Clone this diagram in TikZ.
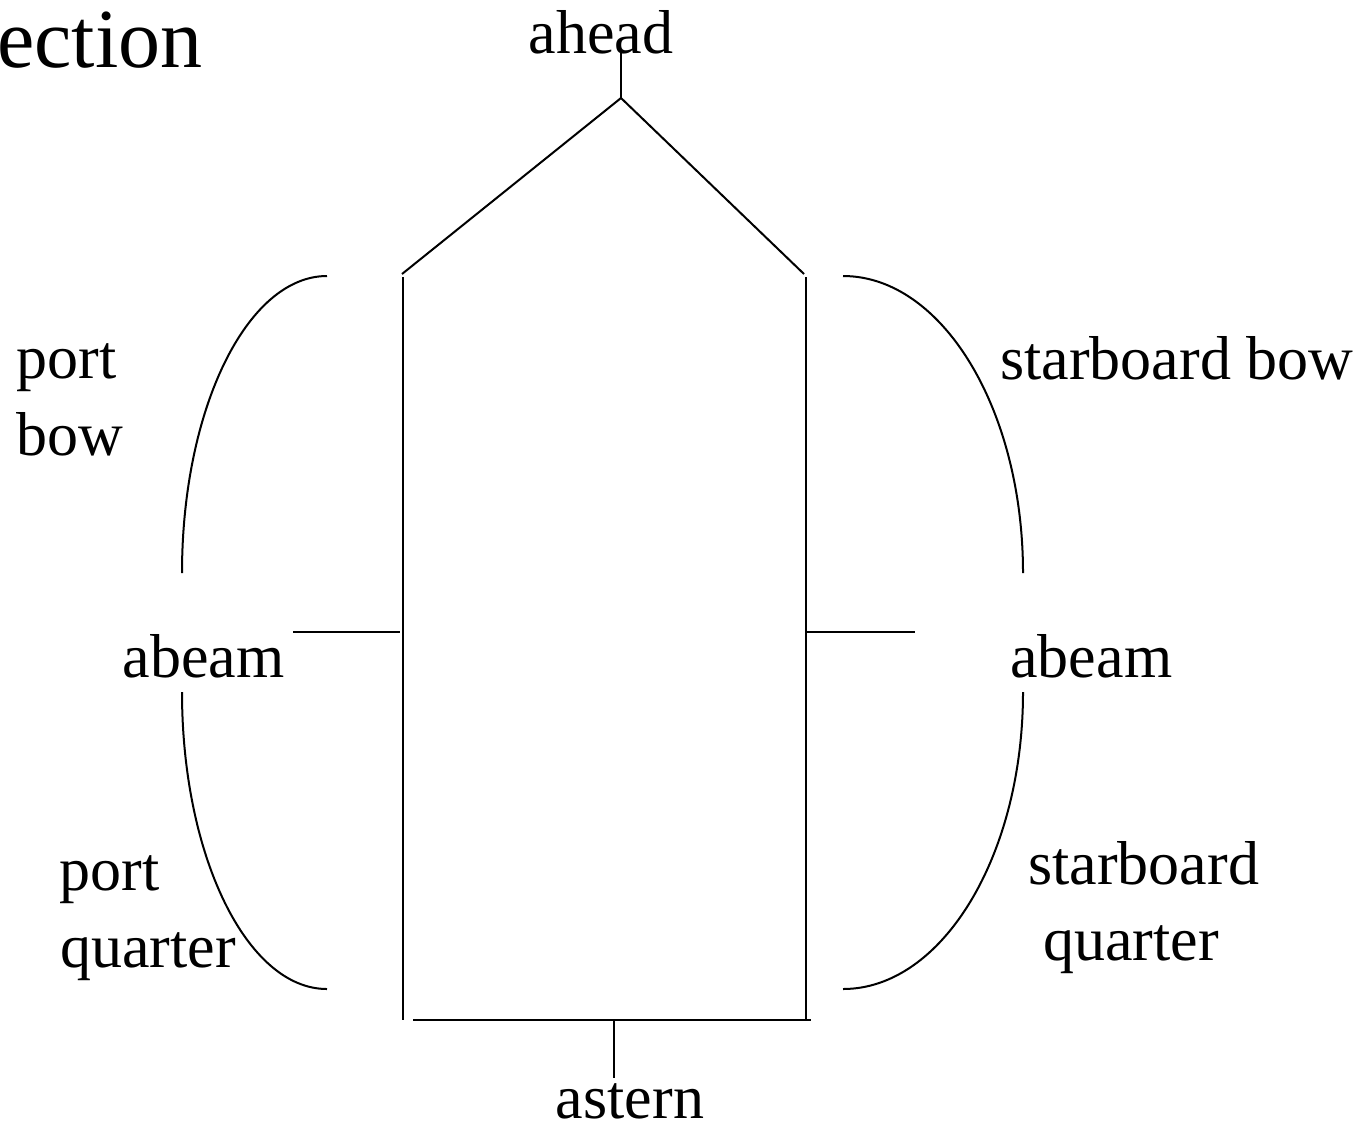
\documentclass[tikz,border=0pt]{standalone}
\usepackage{fontspec}
\setmainfont{Liberation Serif}
\begin{document}
\begin{tikzpicture}[x=0.5pt,y=-0.5pt,
  line/.style={line width=1pt,black},
  lbl/.style={inner sep=0pt,font=\fontsize{31}{37}\selectfont}]
\useasboundingbox (0,0) rectangle (1363,1126);
% text
\node[inner sep=0pt,font=\fontsize{42}{50}\selectfont,anchor=base east] (title) at (203,67) {ection};
\node[lbl,anchor=base] (ahead) at (601,53) {ahead};
\node[lbl,anchor=base] (astern) at (630,1118) {astern};
\node[lbl,anchor=base west] (pb1) at (16,378) {port};
\node[lbl,anchor=base west] (pb2) at (16,455) {bow};
\node[lbl,anchor=base west] (sb) at (1000,379) {starboard bow};
\node[lbl,anchor=base east] (abl) at (285,677) {abeam};
\node[lbl,anchor=base west] (abr) at (1010,677) {abeam};
\node[lbl,anchor=base west] (pq1) at (59,890) {port};
\node[lbl,anchor=base west] (pq2) at (60,967) {quarter};
\node[lbl,anchor=base west] (sq1) at (1028,884) {starboard};
\node[lbl,anchor=base west] (sq2) at (1043,960) {quarter};
% ship coordinates
\coordinate (aheadtick) at (621,50);
\coordinate (apex) at (621,98);
\coordinate (lslant) at (402,274);
\coordinate (rslant) at (804,274);
\coordinate (ltop) at (403,277);
\coordinate (lbot) at (403,1020);
\coordinate (rtop) at (806,277);
\coordinate (rbot) at (806,1020);
\coordinate (bl) at (413,1020);
\coordinate (br) at (811,1020);
\coordinate (sterntop) at (614,1020);
\coordinate (sternbot) at (614,1078);
\coordinate (abl1) at (293,632);
\coordinate (abl2) at (400,632);
\coordinate (abr1) at (806,632);
\coordinate (abr2) at (915,632);
% ship
\draw[line] (aheadtick) -- (apex);
\draw[line] (lslant) -- (apex) -- (rslant);
\draw[line] (ltop) -- (lbot);
\draw[line] (rtop) -- (rbot);
\draw[line] (bl) -- (br);
\draw[line] (sterntop) -- (sternbot);
\draw[line] (abl1) -- (abl2);
\draw[line] (abr1) -- (abr2);
% sector arcs
\draw[line] (327,276) .. controls (247,276) and (182,409) .. (182,573);
\draw[line] (182,692) .. controls (182,856) and (247,989) .. (327,989);
\draw[line] (843,276) .. controls (942,276) and (1023,409) .. (1023,573);
\draw[line] (1023,692) .. controls (1023,856) and (942,989) .. (843,989);
\end{tikzpicture}
\end{document}
